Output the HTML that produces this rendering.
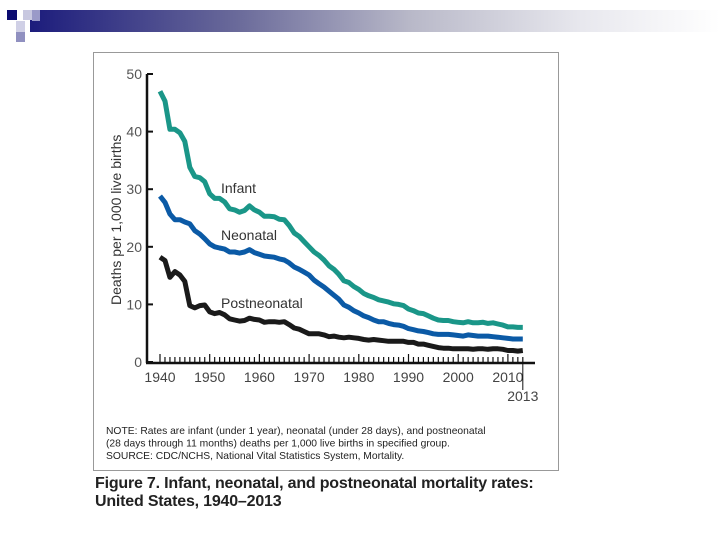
<!DOCTYPE html>
<html><head><meta charset="utf-8"><style>
body{margin:0;width:720px;height:540px;background:#fff;overflow:hidden;position:relative;font-family:"Liberation Sans",sans-serif}
#banner{position:absolute;left:30px;top:10px;width:690px;height:22px;background:linear-gradient(to right,#1c1c7c 0%,#6a6a9a 30%,#b8b8c8 55%,#e8e8ee 80%,#fff 100%)}
.sq{position:absolute}
#panel{position:absolute;left:93px;top:52px;width:464px;height:417px;border:1px solid #999;background:#fff}
#caption{position:absolute;left:95px;top:475px;font-size:16px;font-weight:bold;color:#222;line-height:18px;letter-spacing:-0.2px}
</style></head><body>
<div id="banner"></div>
<div class="sq" style="left:7px;top:10px;width:10px;height:10px;background:#0b0b70"></div>
<div class="sq" style="left:23px;top:10px;width:10px;height:10px;background:#c8c8e0"></div>
<div class="sq" style="left:32px;top:10px;width:8px;height:11px;background:#9a9ac8"></div>
<div class="sq" style="left:16px;top:21px;width:9px;height:11px;background:#d0d0e6"></div>
<div class="sq" style="left:16px;top:32px;width:9px;height:10px;background:#9090c0"></div>
<div id="panel"></div>
<svg id="chart" width="720" height="540" style="position:absolute;left:0;top:0"></svg>
<div id="caption">Figure 7. Infant, neonatal, and postneonatal mortality rates:<br>United States, 1940–2013</div>
<script>
const years=[];for(let y=1940;y<=2013;y++)years.push(y);
const infant=[47.0,45.3,40.4,40.4,39.8,38.3,33.8,32.2,32.0,31.3,29.2,28.4,28.4,27.8,26.6,26.4,26.0,26.3,27.1,26.4,26.0,25.3,25.3,25.2,24.8,24.7,23.7,22.4,21.8,20.9,20.0,19.1,18.5,17.7,16.7,16.1,15.2,14.1,13.8,13.1,12.6,11.9,11.5,11.2,10.8,10.6,10.4,10.1,10.0,9.8,9.2,8.9,8.5,8.4,8.0,7.6,7.3,7.2,7.2,7.0,6.9,6.8,7.0,6.8,6.8,6.9,6.7,6.8,6.6,6.4,6.1,6.1,6.0,6.0];
const neonatal=[28.8,27.7,25.7,24.7,24.7,24.3,24.0,22.8,22.2,21.4,20.5,20.0,19.8,19.6,19.1,19.1,18.9,19.1,19.5,19.0,18.7,18.4,18.3,18.2,17.9,17.7,17.2,16.5,16.1,15.6,15.1,14.2,13.6,13.0,12.3,11.6,10.9,9.9,9.5,8.9,8.5,8.0,7.7,7.3,7.0,7.0,6.7,6.5,6.4,6.2,5.8,5.6,5.4,5.3,5.1,4.9,4.8,4.8,4.8,4.7,4.6,4.5,4.7,4.6,4.5,4.5,4.5,4.4,4.3,4.2,4.1,4.0,4.0,4.0];
const postneonatal=[18.2,17.6,14.7,15.7,15.1,14.0,9.8,9.4,9.8,9.9,8.7,8.4,8.6,8.2,7.5,7.3,7.1,7.2,7.6,7.4,7.3,6.9,7.0,7.0,6.9,7.0,6.5,5.9,5.7,5.3,4.9,4.9,4.9,4.7,4.4,4.5,4.3,4.2,4.3,4.2,4.1,3.9,3.8,3.9,3.8,3.7,3.6,3.6,3.6,3.6,3.4,3.4,3.1,3.1,2.9,2.7,2.5,2.4,2.4,2.3,2.3,2.3,2.3,2.2,2.3,2.3,2.2,2.3,2.3,2.2,2.0,2.0,1.9,2.0];
const yTicks=[0,10,20,30,40,50];
const xTicks=[1940,1950,1960,1970,1980,1990,2000,2010];
const NS="http://www.w3.org/2000/svg";
const svg=document.getElementById('chart');
const X=y=>160+(y-1940)*4.97;
const Y=v=>362-v*5.76;
function el(t,a,txt){const e=document.createElementNS(NS,t);for(const k in a)e.setAttribute(k,a[k]);if(txt!==undefined)e.textContent=txt;svg.appendChild(e);return e;}
let e;
e=el('line',{x1:147,y1:Y(50),x2:147,y2:363,stroke:'#111','stroke-width':2.5});

e=el('line',{x1:146,y1:363,x2:535,y2:363,stroke:'#111','stroke-width':2.5});

yTicks.forEach(v=>{
 e=el('line',{x1:147,y1:Y(v),x2:153,y2:Y(v),stroke:'#111','stroke-width':2});
 
 e=el('text',{x:142,y:Y(v)+5,'text-anchor':'end','font-size':14,fill:'#555'},String(v));
 
});
years.forEach(y=>{
 const maj=y%10===0;
 e=el('line',{x1:X(y),y1:363,x2:X(y),y2:maj?354:357,stroke:'#111','stroke-width':1.2});
 
});
xTicks.forEach(y=>{
 e=el('text',{x:X(y),y:382,'text-anchor':'middle','font-size':14,fill:'#444'},String(y));
 
});
e=el('line',{x1:X(2013),y1:363,x2:X(2013),y2:390,stroke:'#111','stroke-width':1});

e=el('text',{x:X(2013),y:401,'text-anchor':'middle','font-size':14,fill:'#444'},'2013');

e=el('text',{x:0,y:0,transform:'translate(121,305) rotate(-90)','font-size':14,fill:'#333'},'Deaths per 1,000 live births');

const series=[[infant,'#1a9688','infant-line'],[neonatal,'#0b5aa6','neonatal-line'],[postneonatal,'#1a1a1a','postneonatal-line']];
series.forEach(([d,c,n])=>{
 const pts=d.map((v,i)=>X(years[i]).toFixed(1)+','+Y(v).toFixed(1)).join(' ');
 e=el('polyline',{points:pts,fill:'none',stroke:c,'stroke-width':5,'stroke-linejoin':'round'});
 
});
[['Infant',221,193],['Neonatal',221,240],['Postneonatal',221,308]].forEach(([t,x,y])=>{
 e=el('text',{x:x,y:y,'font-size':14,fill:'#333'},t);
 
});
const notes=['NOTE: Rates are infant (under 1 year), neonatal (under 28 days), and postneonatal','(28 days through 11 months) deaths per 1,000 live births in specified group.','SOURCE: CDC/NCHS, National Vital Statistics System, Mortality.'];
notes.forEach((t,i)=>{
 e=el('text',{x:106,y:434+i*12.5,'font-size':10.3,fill:'#222'},t);
 
});
</script>
</body></html>
